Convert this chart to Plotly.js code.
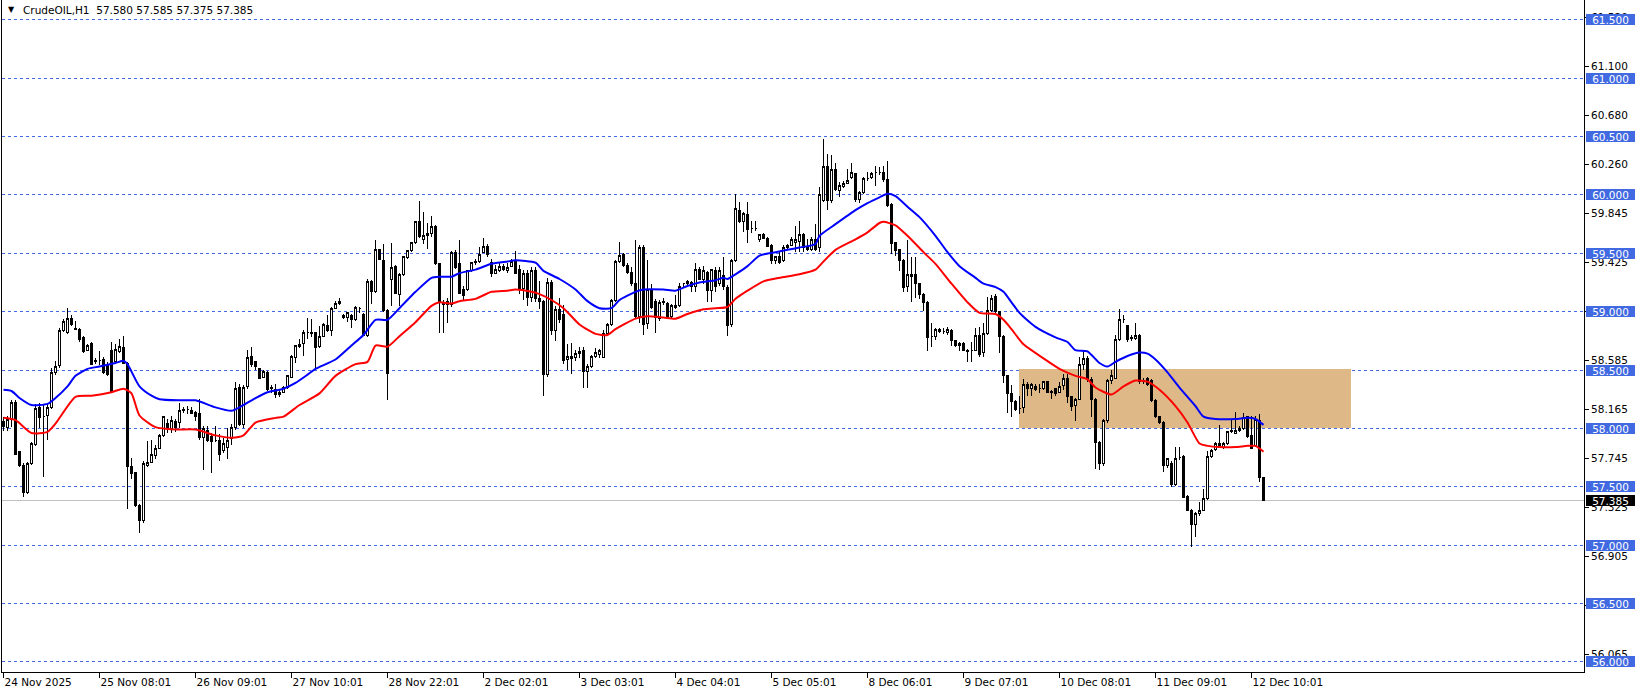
<!DOCTYPE html>
<html><head><meta charset="utf-8">
<script src="https://cdn.plot.ly/plotly-3.0.1.min.js"></script>
<style>html,body{margin:0;padding:0;background:#fff;overflow:hidden}#chart{width:1641px;height:696px}
#chart .trace.boxes path{shape-rendering:crispEdges}
#chart .shapelayer path{shape-rendering:crispEdges}
</style>
</head><body><div id="chart"></div>
<script>
const symbolTitle = "CrudeOIL,H1";
const lastOHLC = ["57.580", "57.585", "57.375", "57.385"];

const openP = [
58.06,58.01,58.08,58.22,57.80,57.68,57.45,57.70,57.86,58.18,
58.10,58.11,58.18,58.48,58.54,58.84,58.82,58.94,58.86,58.85,
58.78,58.67,58.73,58.57,58.58,58.59,58.55,58.67,58.57,58.66,
58.69,58.56,57.67,57.62,57.34,57.21,57.68,57.71,57.77,57.83,
57.94,58.04,58.00,58.06,58.05,58.15,58.16,58.15,58.14,58.13,
57.92,57.98,57.93,57.90,57.90,57.81,57.84,57.91,58.01,58.35,
58.03,58.36,58.62,58.57,58.51,58.44,58.48,58.35,58.33,58.29,
58.31,58.35,58.44,58.61,58.70,58.73,58.82,58.82,58.82,58.70,
58.79,58.88,58.84,59.03,59.07,58.97,58.95,58.97,58.93,59.03,
58.98,58.80,59.26,59.17,59.53,59.44,59.01,59.28,59.39,59.15,
59.32,59.46,59.52,59.59,59.77,59.62,59.65,59.67,59.73,59.41,
59.08,59.06,59.06,59.51,59.41,59.19,59.19,59.35,59.42,59.43,
59.51,59.56,59.42,59.33,59.35,59.39,59.35,59.39,59.43,59.36,
59.20,59.33,59.12,59.35,59.11,59.09,58.46,59.25,58.84,59.02,
58.98,58.59,58.62,58.61,58.64,58.67,58.49,58.53,58.62,58.63,
58.61,58.81,58.89,59.10,59.43,59.49,59.40,59.34,59.24,58.96,
59.55,58.90,59.19,59.09,58.94,59.08,59.07,58.96,59.05,59.05,
59.24,59.24,59.25,59.22,59.36,59.28,59.34,59.18,59.35,59.24,
59.31,59.21,58.89,59.44,59.87,59.77,59.83,59.71,59.71,59.62,
59.66,59.63,59.57,59.44,59.47,59.44,59.55,59.57,59.59,59.60,
59.66,59.56,59.53,59.62,59.55,59.95,60.24,59.95,60.22,60.04,
60.07,60.10,60.15,60.18,59.96,60.02,60.14,60.15,60.19,60.19,
60.19,60.13,59.92,59.59,59.53,59.44,59.22,59.30,59.32,59.24,
59.15,59.08,58.79,58.79,58.85,58.83,58.82,58.84,58.75,58.71,
58.73,58.67,58.67,58.67,58.80,58.65,58.81,59.01,59.13,59.00,
58.79,58.45,58.30,58.23,58.17,58.18,58.38,58.34,58.36,58.34,
58.34,58.40,58.32,58.34,58.31,58.37,58.43,58.27,58.20,58.25,
58.55,58.60,58.42,58.25,57.88,57.70,58.07,58.41,58.43,58.76,
58.93,58.88,58.77,58.77,58.80,58.41,58.43,58.41,58.24,58.10,
58.05,57.68,57.70,57.52,57.75,57.76,57.42,57.30,57.18,57.27,
57.30,57.40,57.76,57.82,57.87,57.84,57.87,57.98,57.96,57.98,
58.00,58.10,57.94,57.85,58.07,57.580];
const highP = [
58.10,58.11,58.24,58.24,57.81,57.70,57.71,57.88,58.21,58.22,
58.21,58.22,58.52,58.58,58.86,58.94,59.03,58.97,58.92,58.86,
58.79,58.72,58.74,58.60,58.66,58.61,58.57,58.74,58.72,58.77,
58.79,58.57,57.75,57.63,57.35,57.72,57.89,57.90,57.86,57.95,
58.11,58.08,58.11,58.08,58.22,58.18,58.19,58.18,58.15,58.25,
58.02,58.02,57.96,58.02,57.95,57.92,58.00,58.04,58.40,58.38,
58.37,58.67,58.70,58.58,58.52,58.50,58.49,58.37,58.38,58.33,
58.36,58.46,58.63,58.71,58.77,58.84,58.95,58.94,58.83,58.88,
58.90,58.97,59.04,59.09,59.12,58.98,59.00,58.98,59.05,59.04,
58.99,59.28,59.27,59.61,59.54,59.58,59.02,59.59,59.40,59.33,
59.48,59.53,59.60,59.78,59.95,59.85,59.76,59.82,59.74,59.42,
59.10,59.12,59.52,59.53,59.61,59.22,59.36,59.43,59.45,59.55,
59.63,59.58,59.45,59.40,59.42,59.41,59.42,59.45,59.52,59.40,
59.36,59.36,59.38,59.38,59.26,59.10,59.29,59.27,59.05,59.12,
59.06,58.72,58.73,58.67,58.70,58.70,58.55,58.63,58.69,58.68,
58.84,58.90,59.11,59.44,59.60,59.50,59.42,59.38,59.61,59.57,
59.57,59.44,59.24,59.11,59.10,59.12,59.08,59.07,59.14,59.25,
59.25,59.27,59.26,59.42,59.38,59.39,59.35,59.37,59.38,59.38,
59.47,59.23,59.45,60.01,59.94,59.85,59.94,59.78,59.78,59.66,
59.67,59.64,59.58,59.48,59.52,59.57,59.58,59.64,59.73,59.78,
59.67,59.62,59.64,59.75,60.07,60.48,60.35,60.34,60.27,60.11,
60.12,60.22,60.27,60.19,60.03,60.15,60.20,60.20,60.25,60.24,
60.25,60.29,59.93,59.60,59.54,59.45,59.61,59.47,59.47,59.25,
59.16,59.09,58.90,58.86,58.86,58.86,58.87,58.85,58.76,58.74,
58.74,58.68,58.74,58.86,58.87,58.90,59.13,59.14,59.15,59.01,
58.80,58.46,58.37,58.24,58.28,58.42,58.40,58.39,58.38,58.38,
58.41,58.41,58.33,58.35,58.40,58.47,58.47,58.28,58.26,58.61,
58.66,58.62,58.44,58.26,57.89,58.08,58.42,58.50,58.80,59.02,
58.97,58.89,58.80,58.90,58.81,58.43,58.44,58.42,58.25,58.11,
58.06,57.75,57.72,57.84,57.84,57.77,57.43,57.31,57.28,57.37,
57.48,57.81,57.82,57.88,58.03,57.88,57.98,58.07,58.14,58.02,
58.13,58.11,58.11,58.11,58.12,57.585];
const lowP = [
57.98,57.98,58.01,57.77,57.67,57.41,57.44,57.69,57.85,58.00,
57.58,57.90,58.17,58.46,58.52,58.83,58.81,58.88,58.84,58.74,
58.65,58.66,58.55,58.55,58.54,58.47,58.45,58.30,58.56,58.65,
58.55,57.31,57.57,57.33,57.10,57.19,57.67,57.70,57.74,57.82,
57.93,57.96,57.96,57.97,58.00,58.13,58.12,58.12,58.06,57.90,
57.64,57.88,57.62,57.88,57.72,57.79,57.74,57.86,57.99,58.02,
58.00,58.34,58.53,58.50,58.42,58.43,58.32,58.30,58.26,58.27,
58.30,58.34,58.43,58.56,58.69,58.62,58.77,58.78,58.52,58.69,
58.78,58.83,58.79,59.02,59.06,58.94,58.91,58.86,58.92,58.99,
58.79,58.78,59.07,59.16,59.44,59.00,58.24,59.05,59.15,59.05,
59.31,59.45,59.51,59.58,59.63,59.58,59.54,59.64,59.40,58.82,
58.82,58.90,59.04,59.37,59.15,59.10,59.18,59.34,59.40,59.42,
59.50,59.47,59.30,59.32,59.34,59.35,59.33,59.38,59.32,59.15,
59.10,59.05,59.08,59.08,59.02,58.28,58.44,58.80,58.75,58.90,
58.55,58.50,58.47,58.58,58.60,58.35,58.35,58.52,58.60,58.60,
58.60,58.80,58.88,59.08,59.42,59.38,59.32,59.22,58.94,58.90,
58.80,58.85,59.02,58.82,58.92,59.06,58.94,58.94,59.02,59.04,
59.20,59.22,59.17,59.17,59.27,59.24,59.08,59.08,59.17,59.22,
59.19,58.79,58.87,59.43,59.76,59.68,59.59,59.67,59.69,59.60,
59.62,59.55,59.41,59.41,59.41,59.43,59.53,59.56,59.51,59.51,
59.51,59.52,59.52,59.52,59.51,59.94,59.87,59.93,60.03,59.98,
60.06,60.09,60.14,59.94,59.93,60.01,60.12,60.14,60.08,60.17,
60.11,59.90,59.49,59.48,59.35,59.17,59.17,59.08,59.12,59.11,
59.01,58.66,58.70,58.76,58.82,58.81,58.80,58.71,58.70,58.66,
58.66,58.57,58.57,58.66,58.61,58.61,58.80,59.00,58.99,58.65,
58.39,58.13,58.10,58.15,58.12,58.13,58.28,58.28,58.32,58.30,
58.33,58.30,58.25,58.28,58.30,58.33,58.22,58.15,58.06,58.24,
58.50,58.40,58.10,57.65,57.64,57.68,58.05,58.38,58.42,58.75,
58.90,58.74,58.75,58.76,58.38,58.38,58.36,58.23,58.09,58.04,
57.63,57.66,57.50,57.51,57.73,57.40,57.29,56.98,57.07,57.25,
57.29,57.39,57.75,57.81,57.83,57.82,57.86,57.96,57.95,57.97,
57.99,57.92,57.82,57.84,57.54,57.375];
const closeP = [
58.02,58.08,58.22,57.78,57.68,57.45,57.70,57.87,58.17,58.09,
58.10,58.18,58.48,58.53,58.84,58.92,58.94,58.89,58.85,58.76,
58.66,58.71,58.55,58.58,58.58,58.48,58.46,58.31,58.68,58.70,
58.56,57.67,57.61,57.34,57.21,57.70,57.71,57.78,57.83,57.94,
58.10,58.01,58.07,58.01,58.15,58.16,58.16,58.13,58.10,57.92,
58.00,57.90,57.89,57.90,57.78,57.87,57.90,58.01,58.34,58.03,
58.35,58.61,58.55,58.53,58.43,58.49,58.33,58.34,58.29,58.31,
58.35,58.45,58.62,58.71,58.72,58.82,58.82,58.81,58.69,58.79,
58.89,58.84,59.03,59.07,59.09,58.95,58.99,58.93,59.04,59.03,
58.80,59.26,59.17,59.53,59.45,59.01,58.47,59.38,59.16,59.32,
59.47,59.52,59.59,59.77,59.64,59.65,59.67,59.73,59.41,59.08,
59.06,59.09,59.51,59.38,59.16,59.14,59.35,59.42,59.43,59.49,
59.56,59.49,59.33,59.36,59.39,59.36,59.38,59.43,59.33,59.20,
59.33,59.12,59.35,59.11,59.09,58.46,59.25,58.84,59.02,58.93,
58.58,58.62,58.60,58.64,58.66,58.49,58.53,58.62,58.65,58.67,
58.81,58.89,59.10,59.43,59.48,59.40,59.34,59.24,58.96,59.55,
58.89,59.19,59.04,58.95,59.08,59.09,58.95,59.05,59.04,59.22,
59.24,59.26,59.22,59.36,59.28,59.35,59.18,59.36,59.22,59.35,
59.22,58.88,59.44,59.88,59.77,59.84,59.70,59.71,59.71,59.66,
59.63,59.56,59.44,59.47,59.42,59.55,59.57,59.62,59.62,59.66,
59.55,59.53,59.62,59.53,60.00,60.24,59.95,60.22,60.05,60.08,
60.10,60.12,60.19,59.96,60.02,60.14,60.14,60.18,60.19,60.19,
60.13,59.91,59.58,59.52,59.44,59.21,59.32,59.32,59.24,59.15,
59.08,58.78,58.79,58.85,58.83,58.83,58.85,58.75,58.71,58.73,
58.67,58.66,58.67,58.80,58.63,58.81,59.01,59.11,59.00,58.79,
58.45,58.30,58.23,58.16,58.17,58.38,58.34,58.38,58.33,58.34,
58.40,58.31,58.31,58.30,58.36,58.43,58.27,58.19,58.25,58.55,
58.60,58.42,58.25,57.88,57.70,58.07,58.41,58.45,58.76,58.93,
58.93,58.76,58.78,58.80,58.40,58.40,58.38,58.24,58.10,58.05,
57.68,57.74,57.52,57.74,57.75,57.41,57.30,57.18,57.27,57.30,
57.40,57.76,57.81,57.87,57.84,57.87,57.97,57.97,57.98,58.00,
58.09,57.93,57.83,58.08,57.58,57.385];

// moving averages (bar index, value)
const maBlueBars = [0,2,4,7,11,13,16,18,21,24,28,30,31,34,37,39,44,48,53,57,59,63,66,70,73,76,78,83,87,90,93,96,99,103,107,109,112,114,118,122,126,128,133,135,139,143,146,149,152,154,158,160,165,168,171,174,178,180,181,183,186,189,193,196,199,203,204,208,213,216,219,221,223,226,229,233,236,239,243,245,248,250,252,254,258,263,266,268,271,274,276,278,281,284,286,288,291,294,298,300,303,308,311,313,315];
const maBlueVals = [58.33,58.32,58.26,58.20,58.21,58.26,58.36,58.45,58.51,58.53,58.56,58.58,58.55,58.36,58.28,58.25,58.24,58.24,58.18,58.15,58.18,58.26,58.31,58.34,58.39,58.46,58.51,58.59,58.71,58.80,58.93,58.93,59.03,59.17,59.29,59.30,59.30,59.33,59.36,59.41,59.43,59.44,59.42,59.35,59.28,59.19,59.09,59.03,59.03,59.10,59.17,59.19,59.19,59.18,59.22,59.25,59.27,59.29,59.28,59.32,59.39,59.48,59.51,59.53,59.55,59.58,59.65,59.75,59.87,59.93,59.98,60.01,59.99,59.90,59.81,59.65,59.51,59.39,59.29,59.24,59.21,59.17,59.08,58.99,58.87,58.78,58.74,58.67,58.66,58.56,58.53,58.57,58.62,58.65,58.64,58.59,58.48,58.35,58.19,58.10,58.08,58.08,58.09,58.08,58.03];
const maRedBars = [0,3,7,11,13,18,22,27,30,32,34,38,43,48,53,57,60,63,68,70,74,79,83,88,91,93,96,99,103,107,109,112,114,118,122,126,128,132,134,137,140,144,148,151,153,158,161,165,168,171,175,178,181,183,186,190,194,199,203,205,208,213,216,219,220,223,226,230,233,237,241,244,248,250,252,255,260,264,268,271,273,277,280,283,286,289,293,296,299,301,304,308,311,313,315];
const maRedVals = [58.09,58.07,57.96,57.97,58.04,58.27,58.28,58.31,58.34,58.30,58.11,58.01,57.99,57.99,57.94,57.92,57.94,58.05,58.09,58.10,58.20,58.30,58.45,58.55,58.57,58.71,58.70,58.79,58.91,59.05,59.08,59.07,59.09,59.11,59.17,59.18,59.19,59.17,59.15,59.10,59.03,58.89,58.81,58.80,58.85,58.94,58.96,58.95,58.94,58.98,59.02,59.03,59.04,59.11,59.18,59.26,59.29,59.32,59.36,59.43,59.53,59.62,59.68,59.76,59.77,59.74,59.65,59.51,59.41,59.24,59.08,58.99,58.98,58.93,58.85,58.72,58.60,58.51,58.45,58.42,58.35,58.29,58.36,58.41,58.40,58.33,58.19,58.05,57.87,57.85,57.84,57.84,57.85,57.85,57.80];

const timeLabels = ["24 Nov 2025","25 Nov 08:01","26 Nov 09:01","27 Nov 10:01","28 Nov 22:01","2 Dec 02:01","3 Dec 03:01","4 Dec 04:01","5 Dec 05:01","8 Dec 06:01","9 Dec 07:01","10 Dec 08:01","11 Dec 09:01","12 Dec 10:01"];
const barsPerLabel = 24;
const priceTicks = [56.065,56.485,56.905,57.325,57.745,58.165,58.585,59.005,59.425,59.845,60.260,60.680,61.100,61.520];
const levels = [56.0,56.5,57.0,57.5,58.0,58.5,59.0,59.5,60.0,60.5,61.0,61.5];
const currentPrice = 57.385;
const zone = {fromBar: 253.75, toBar: 336.75, low: 58.0, high: 58.51};

const xs = openP.map((_, i) => i);
const FONT = "DejaVu Sans, Verdana, sans-serif";
const FS = 10.5;

const traces = [
  {type: "candlestick", x: xs, open: openP, high: highP, low: lowP, close: closeP,
   increasing: {line: {color: "#000000", width: 1}, fillcolor: "#ffffff"},
   decreasing: {line: {color: "#000000", width: 1}, fillcolor: "#000000"},
   whiskerwidth: 0, hoverinfo: "skip", showlegend: false},
  {type: "scatter", mode: "lines", x: maBlueBars, y: maBlueVals,
   line: {color: "#0000FF", width: 2, shape: "spline", smoothing: 0.6}, hoverinfo: "skip", showlegend: false},
  {type: "scatter", mode: "lines", x: maRedBars, y: maRedVals,
   line: {color: "#FF0000", width: 2, shape: "spline", smoothing: 0.6}, hoverinfo: "skip", showlegend: false}
];

const shapes = [
  {type: "rect", layer: "below", xref: "x", yref: "y", x0: zone.fromBar, x1: zone.toBar, y0: zone.low, y1: zone.high,
   fillcolor: "#DEB887", line: {width: 0}},
  {type: "line", layer: "below", xref: "paper", yref: "y", x0: 0, x1: 1, y0: currentPrice, y1: currentPrice,
   line: {color: "#C0C0C0", width: 1}}
];
levels.forEach(v => shapes.push({type: "line", layer: "below", xref: "paper", yref: "y", x0: 0, x1: 1, y0: v, y1: v,
   line: {color: "#4169E1", width: 1, dash: "3px,3px"}}));

const annX = 1 + 2 / 1582;
const annotations = [];
levels.forEach(v => annotations.push({xref: "paper", yref: "y", x: annX, y: v, xanchor: "left", yanchor: "middle",
  text: v.toFixed(3), showarrow: false, bgcolor: "#4169E1", font: {family: FONT, size: FS, color: "#ffffff"},
  width: 49, height: 11, borderpad: 0, borderwidth: 0, align: "center"}));
annotations.push({xref: "paper", yref: "y", x: annX, y: currentPrice, xanchor: "left", yanchor: "middle",
  text: currentPrice.toFixed(3), showarrow: false, bgcolor: "#000000", font: {family: FONT, size: FS, color: "#ffffff"},
  width: 49, height: 11, borderpad: 0, borderwidth: 0, align: "center"});
annotations.push({xref: "paper", yref: "paper", x: 4 / 1582, y: 1 - 10 / 672, xanchor: "left", yanchor: "middle",
  text: "\u25BC", showarrow: false, font: {family: FONT, size: 8, color: "#000000"}});
annotations.push({xref: "paper", yref: "paper", x: 19 / 1582, y: 1 - 10 / 672, xanchor: "left", yanchor: "middle",
  text: symbolTitle + "\u00a0\u00a0" + lastOHLC.join(" "), showarrow: false, font: {family: FONT, size: FS, color: "#000000"}});

const layout = {
  width: 1641, height: 696,
  margin: {l: 2, r: 57, t: 0, b: 24, pad: 0},
  paper_bgcolor: "#ffffff", plot_bgcolor: "#ffffff",
  font: {family: FONT, size: FS, color: "#000000"},
  showlegend: false,
  boxgap: 0.5, boxgroupgap: 0,
  xaxis: {type: "linear", range: [-0.375, 395.125], tickvals: timeLabels.map((_, k) => k * barsPerLabel), ticktext: timeLabels,
    ticks: "outside", ticklen: 5, tickcolor: "#000000", tickwidth: 1, ticklabelposition: "outside right",
    showgrid: false, zeroline: false, showline: true, linecolor: "#000000", linewidth: 1, mirror: true,
    rangeslider: {visible: false}, tickfont: {family: FONT, size: FS, color: "#000000"}, fixedrange: true},
  yaxis: {side: "right", range: [55.912, 61.671], tickvals: priceTicks, ticktext: priceTicks.map(v => v.toFixed(3)),
    ticks: "outside", ticklen: 4, tickcolor: "#000000", tickwidth: 1,
    showgrid: false, zeroline: false, showline: true, linecolor: "#000000", linewidth: 1, mirror: true,
    tickfont: {family: FONT, size: FS, color: "#000000"}, fixedrange: true},
  shapes: shapes,
  annotations: annotations
};

Plotly.newPlot("chart", traces, layout, {displayModeBar: false, staticPlot: true});
</script>
</body></html>
